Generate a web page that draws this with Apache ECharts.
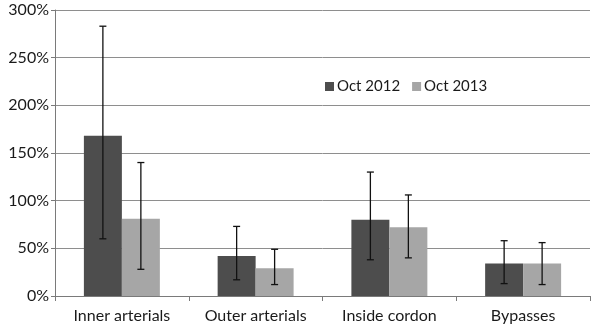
<!DOCTYPE html>
<html>
<head>
<meta charset="utf-8">
<script src="https://cdn.jsdelivr.net/npm/echarts@6/dist/echarts.min.js"></script>
<style>
  html, body { margin: 0; padding: 0; background: #fff; }
  #chart { width: 604px; height: 336px; }
</style>
</head>
<body>
<div id="chart"></div>
<script>
// Change in traffic by road type, with error ranges
const categories = ['Inner arterials', 'Outer arterials', 'Inside cordon', 'Bypasses'];
const seriesNames = ['Oct 2012', 'Oct 2013'];
const oct2012 = [168, 42, 80, 34];
const oct2013 = [81, 29, 72, 34];
const oct2012Low = [60, 17, 38, 13];
const oct2012High = [283, 73, 130, 58];
const oct2013Low = [28, 12, 40, 12];
const oct2013High = [140, 49, 106, 56];
const yTicks = [0, 50, 100, 150, 200, 250, 300];

const FONT = 'Lato';
const BAR_FRACTION = 0.284;

function errorSeries(low, high, side) {
  return {
    type: 'custom',
    silent: true,
    z: 10,
    data: categories.map((c, i) => [i, low[i], high[i]]),
    renderItem: function (params, api) {
      const idx = api.value(0);
      const catW = api.size([1, 0])[0];
      const dx = side * catW * BAR_FRACTION / 2;
      const pLow = api.coord([idx, api.value(1)]);
      const pHigh = api.coord([idx, api.value(2)]);
      const x = pLow[0] + dx;
      const cap = 3.5;
      const style = { stroke: '#111', lineWidth: 1.3 };
      return {
        type: 'group',
        children: [
          { type: 'line', shape: { x1: x, y1: pLow[1], x2: x, y2: pHigh[1] }, style },
          { type: 'line', shape: { x1: x - cap, y1: pLow[1], x2: x + cap, y2: pLow[1] }, style },
          { type: 'line', shape: { x1: x - cap, y1: pHigh[1], x2: x + cap, y2: pHigh[1] }, style }
        ]
      };
    }
  };
}

const chart = echarts.init(document.getElementById('chart'), null, { renderer: 'canvas' });
chart.setOption({
  animation: false,
  backgroundColor: '#fff',
  textStyle: { fontFamily: FONT },
  grid: { left: 55, right: 14, top: 10, bottom: 40, containLabel: false },
  legend: {
    data: seriesNames,
    left: 320,
    top: 74,
    itemWidth: 9,
    itemHeight: 9,
    itemGap: 12,
    icon: 'rect',
    textStyle: { fontFamily: FONT, fontSize: 15, color: '#1a1a1a', padding: [0, 0, 0, -2] }
  },
  xAxis: {
    type: 'category',
    data: categories,
    axisLine: { lineStyle: { color: '#7a7a7a', width: 1 } },
    axisTick: { show: true, alignWithLabel: false, length: 5, lineStyle: { color: '#7a7a7a' } },
    axisLabel: { fontFamily: FONT, fontSize: 16, color: '#1a1a1a', margin: 12 }
  },
  yAxis: {
    type: 'value',
    min: yTicks[0],
    max: yTicks[yTicks.length - 1],
    interval: 50,
    axisLine: { show: true, lineStyle: { color: '#7a7a7a', width: 1 } },
    axisTick: { show: true, length: 4, lineStyle: { color: '#7a7a7a' } },
    axisLabel: { fontFamily: FONT, fontSize: 16, color: '#1a1a1a', margin: 6, formatter: '{value}%' },
    splitLine: { lineStyle: { color: '#8e8e8e', width: 1 } }
  },
  series: [
    {
      name: seriesNames[0],
      type: 'bar',
      data: oct2012,
      barWidth: (BAR_FRACTION * 100) + '%',
      barGap: '0%',
      itemStyle: { color: '#4d4d4d' }
    },
    {
      name: seriesNames[1],
      type: 'bar',
      data: oct2013,
      barWidth: (BAR_FRACTION * 100) + '%',
      barGap: '0%',
      itemStyle: { color: '#a6a6a6' }
    },
    errorSeries(oct2012Low, oct2012High, -1),
    errorSeries(oct2013Low, oct2013High, 1)
  ]
});
</script>
</body>
</html>
